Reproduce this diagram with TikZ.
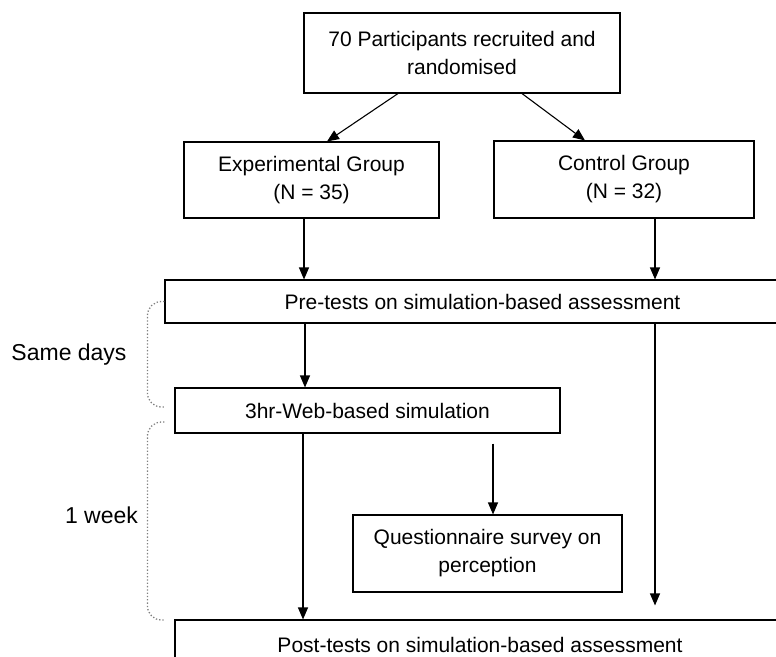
\documentclass[tikz,border=0pt]{standalone}
\usepackage{fontspec}
\setmainfont{Liberation Sans}
\usetikzlibrary{arrows.meta}
\tikzset{
  box/.style={draw, line width=1.1pt, align=center, inner sep=0pt, font=\fontsize{21}{28}\selectfont},
  arr/.style={line width=1.1pt, -{Triangle[length=12pt,width=10pt]}},
  brace/.style={draw=gray, dotted, line width=1.3pt, rounded corners=14pt},
  side/.style={font=\fontsize{23}{28}\selectfont}
}
\begin{document}
\begin{tikzpicture}[x=1pt,y=-1pt]
    \useasboundingbox (0,0) rectangle (776,656);
    \clip (0,0) rectangle (776,656);

    % Recruitment and groups
    \node[box, minimum width=316pt, minimum height=80pt] (recruit) at (462,53) {70 Participants recruited and\\randomised};
    \node[box, minimum width=255pt, minimum height=76pt] (exp) at (311.5,180) {Experimental Group\\(N = 35)};
    \node[box, minimum width=260pt, minimum height=77pt] (ctrl) at (624,179.5) {Control Group\\(N = 32)};

    % Tests and simulation
    \node[box, minimum width=635pt, minimum height=43pt] (pre) at (482.5,301.5) {Pre-tests on simulation-based assessment};
    \node[box, minimum width=385pt, minimum height=45pt] (web) at (367.5,410.5) {3hr-Web-based simulation};
    \node[box, minimum width=269pt, minimum height=77pt] (quest) at (487.5,553.5) {Questionnaire survey on\\perception};
    \node[box, minimum width=610pt, minimum height=50pt] (post) at (480,645) {Post-tests on simulation-based assessment};

    % Side labels
    \node[side] (same) at (69,355) {Same days};
    \node[side] (week) at (101.5,515) {1 week};

    % Connectors
    \draw[arr] ([xshift=-64pt]recruit.south) -- ([xshift=15.5pt]exp.north);
    \draw[arr] ([xshift=60pt]recruit.south) -- ([xshift=-39pt]ctrl.north);
    \draw[arr] ([xshift=-7.5pt]exp.south) -- ([xshift=-7.5pt]exp.south |- pre.north);
    \draw[arr] ([xshift=31pt]ctrl.south) -- ([xshift=31pt]ctrl.south |- pre.north);
    \draw[arr] ([xshift=-177.5pt]pre.south) -- ([xshift=-177.5pt]pre.south |- web.north);
    \draw[arr] ([xshift=-64.5pt]web.south) -- ([xshift=-64.5pt]web.south |- post.north);
    \draw[arr] ([xshift=125.5pt,yshift=-10pt]web.south) -- ([xshift=125.5pt]web.south |- quest.north);
    \draw[arr] ([xshift=172.5pt]pre.south) -- ([xshift=172.5pt,yshift=14pt]pre.south |- post.north);

    % Time brackets
    \draw[brace] (pre.west) -- ++(-17,0) -- ++(0,105.5) -- ++(17,0);
    \draw[brace] ([xshift=-10pt,yshift=-11.5pt]web.west) -- ++(-17,0) -- ++(0,198) -- ++(17,0);
\end{tikzpicture}
\end{document}
